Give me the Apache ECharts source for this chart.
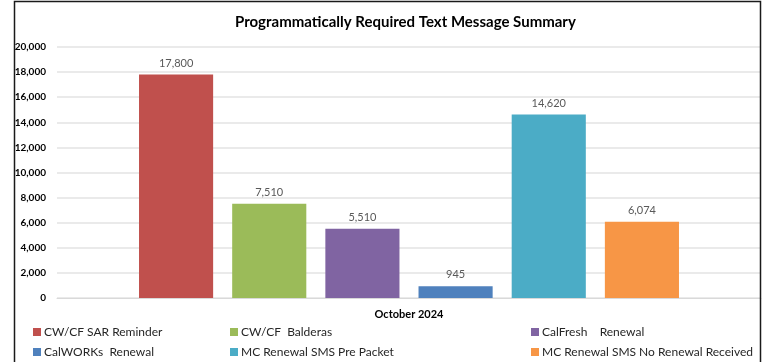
<!DOCTYPE html>
<html>
<head>
<meta charset="utf-8">
<script src="https://cdn.jsdelivr.net/npm/echarts@6/dist/echarts.min.js"></script>
<style>
  html, body { margin: 0; padding: 0; background: #fff; }
  #chart { width: 765px; height: 362px; }
</style>
</head>
<body>
<div id="chart"></div>
<script>
// Monthly text message counts by program
const categories = ['October 2024'];
const seriesNames = [
  'CW/CF SAR Reminder',
  'CW/CF  Balderas',
  'CalFresh    Renewal',
  'CalWORKs  Renewal',
  'MC Renewal SMS Pre Packet',
  'MC Renewal SMS No Renewal Received'
];
const seriesValues = [17800, 7510, 5510, 945, 14620, 6074];
const seriesColors = ['#C0504D', '#9BBB59', '#8064A2', '#4F81BD', '#4BACC6', '#F79646'];
const yTicks = { min: 0, max: 20000, interval: 2000 };

const fontFamily = 'Lato, "Open Sans", sans-serif';
const fmt = v => v.toLocaleString('en-US');

const chart = echarts.init(document.getElementById('chart'), null, { renderer: 'canvas' });

const series = seriesNames.map((name, i) => ({
  name,
  type: 'bar',
  data: [seriesValues[i]],
  itemStyle: { color: seriesColors[i] },
  barGap: '25.7%',
  barCategoryGap: '23.3%',
  label: {
    show: true,
    position: 'top',
    distance: 6,
    color: '#595959',
    fontSize: 11,
    fontFamily,
    formatter: p => fmt(p.value)
  }
}));

// Legend: three columns, two rows, one entry per legend component
const legendColX = [33, 230, 531];
const legendRowY = [326, 346];
const legends = seriesNames.map((name, i) => ({
  left: legendColX[i % 3],
  top: legendRowY[Math.floor(i / 3)],
  padding: 0,
  itemWidth: 8,
  itemHeight: 8,
  itemGap: 0,
  icon: 'rect',
  data: [name],
  textStyle: { color: '#262626', fontSize: 12, fontFamily, padding: [0, 0, 0, -2] },
  selectedMode: false
}));

chart.setOption({
  animation: false,
  textStyle: { fontFamily },
  title: {
    text: 'Programmatically Required Text Message Summary',
    left: 230,
    top: 10,
    textStyle: { fontSize: 15, fontWeight: 'bold', color: '#000', fontFamily }
  },
  legend: legends,
  grid: { left: 57, right: 4, top: 47, bottom: 64, containLabel: false },
  xAxis: {
    type: 'category',
    data: categories,
    axisLine: { show: true, lineStyle: { color: '#D9D9D9', width: 1 } },
    axisTick: { show: false },
    axisLabel: { color: '#000', fontWeight: 'bold', fontSize: 11, margin: 11, fontFamily }
  },
  yAxis: {
    type: 'value',
    min: yTicks.min,
    max: yTicks.max,
    interval: yTicks.interval,
    axisLine: { show: false },
    axisTick: { show: false },
    splitLine: { lineStyle: { color: '#E3E3E3', width: 1.5 } },
    axisLabel: { color: '#000', fontWeight: 'bold', fontSize: 10, margin: 11, fontFamily, formatter: v => fmt(v) }
  },
  graphic: [{
    type: 'rect',
    shape: { x: 14.5, y: 1.5, width: 746, height: 420 },
    style: { fill: 'none', stroke: '#1a1a1a', lineWidth: 1.5 },
    silent: true,
    z: 100
  }],
  series
});
</script>
</body>
</html>
